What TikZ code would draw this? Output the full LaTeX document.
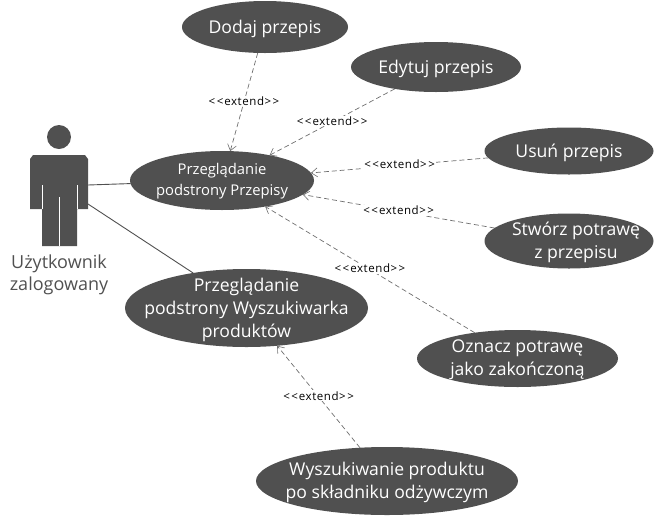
\documentclass[tikz,border=0pt]{standalone}
\usepackage{fontspec}
\setmainfont{Open Sans}
\usetikzlibrary{shapes.geometric,arrows.meta}
\definecolor{ucfill}{HTML}{505050}
\definecolor{dashcol}{HTML}{6E6E6E}
\newcommand{\extxt}{<\kern1.5pt<\kern1pt extend>\kern1.5pt>}
\tikzset{
 x=1pt,y=-1pt,
 usecase/.style args={#1/#2}{ellipse,fill=ucfill,draw=none,inner sep=0pt,outer sep=0pt,minimum width=#1pt,minimum height=#2pt},
 uctext/.style={text=white,align=center,font=\fontsize{17.6}{23}\selectfont,inner sep=0pt,yshift=-1.5pt},
 uctextsmall/.style={text=white,align=center,font=\fontsize{14.8}{20.5}\selectfont,inner sep=0pt,yshift=-.5pt},
 extendline/.style={draw=dashcol,dash pattern=on 5pt off 3pt,line width=.7pt,-{Straight Barb[length=6pt,width=9pt,line width=.6pt]}},
 extlabel/.style={fill=white,text=black,inner sep=1pt,yshift=1pt,font=\fontsize{11.5}{13}\selectfont\addfontfeatures{LetterSpace=5}},
 assoc/.style={draw=ucfill,line width=.9pt},
}
\begin{document}
\begin{tikzpicture}
\useasboundingbox (0,0) rectangle (670,515);
% actor
\fill[ucfill] (59,137) circle (12);
\fill[ucfill] (33,155) -- (85,155) -- (88,159) -- (88,209) -- (77,209) -- (77,246) -- (42,246) -- (42,209) -- (30,209) -- (30,159) -- cycle;
\draw[white,line width=.7pt] (42,185) -- (42,209) (77,185) -- (77,209) (59,197) -- (59,246);
\node[text=ucfill,align=center,font=\fontsize{18}{21.5}\selectfont,inner sep=0pt] (actorname) at (59,275) {Użytkownik\\zalogowany};
\coordinate (actorA) at (88,185);
\coordinate (actorB) at (88,204);
% use cases
\node[usecase=166/52,label={[uctext]center:{Dodaj przepis}}] (dodaj) at (265,27) {};
\node[usecase=170/50,label={[uctext]center:{Edytuj przepis}}] (edytuj) at (436,67) {};
\node[usecase=184/59,label={[uctextsmall]center:{Przeglądanie\\podstrony Przepisy}}] (przepisy) at (222,180.5) {};
\node[usecase=169/47,label={[uctext]center:{Usuń przepis}}] (usun) at (569,151) {};
\node[usecase=169/55,label={[uctext,xshift=7pt]center:{Stwórz potrawę\\z przepisu}}] (stworz) at (569,241) {};
\node[usecase=243/78,label={[uctext]center:{Przeglądanie\\podstrony Wyszukiwarka\\produktów}}] (wyszuk) at (246.5,308) {};
\node[usecase=201/57,label={[uctext]center:{Oznacz potrawę\\jako zakończoną}}] (oznacz) at (517.5,358.5) {};
\node[usecase=262/68,label={[uctext]center:{Wyszukiwanie produktu\\po składniku odżywczym}}] (skladnik) at (387,481) {};
% associations
\draw[assoc] (actorA) -- (przepisy);
\draw[assoc] (actorB) -- (wyszuk);
% extends
\draw[extendline] (dodaj) -- node[extlabel] (l1) {\extxt} (przepisy);
\draw[extendline] (edytuj) -- node[extlabel] (l2) {\extxt} (przepisy);
\draw[extendline] (usun) -- node[extlabel] (l3) {\extxt} (przepisy);
\draw[extendline] (stworz) -- node[extlabel] (l4) {\extxt} (przepisy);
\draw[extendline] (oznacz) -- node[extlabel] (l5) {\extxt} (przepisy);
\draw[extendline] (skladnik) -- node[extlabel] (l6) {\extxt} (wyszuk);
\end{tikzpicture}
\end{document}
